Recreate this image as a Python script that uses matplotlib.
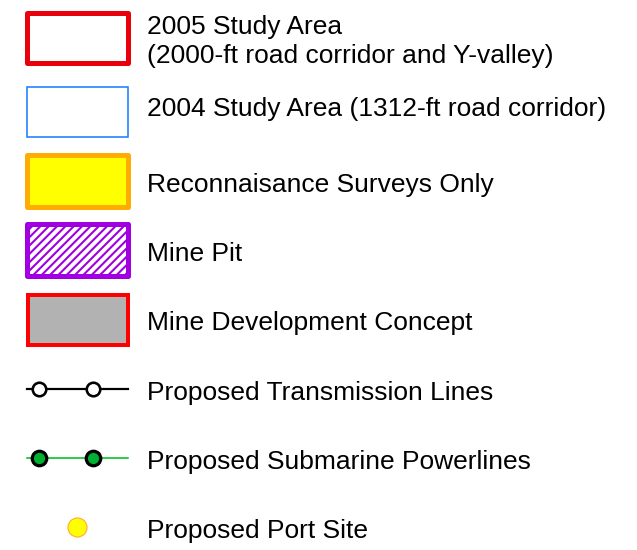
import matplotlib.pyplot as plt
from matplotlib.patches import Rectangle

plt.rcParams['font.family'] = ['Liberation Sans', 'DejaVu Sans']

# legend entries (top to bottom)
labels = [
    "2005 Study Area\n(2000-ft road corridor and Y-valley)",
    "2004 Study Area (1312-ft road corridor)",
    "Reconnaisance Surveys Only",
    "Mine Pit",
    "Mine Development Concept",
    "Proposed Transmission Lines",
    "Proposed Submarine Powerlines",
    "Proposed Port Site",
]
baselines = [34, 116, 192, 261, 330, 400, 469, 538]

W, H = 637, 550
fig = plt.figure(figsize=(W / 100, H / 100), dpi=100)
ax = fig.add_axes([0, 0, 1, 1])
ax.set_xlim(0, W)
ax.set_ylim(H, 0)
ax.axis('off')

px = 72 / 100  # pixels -> points

# area swatches
ax.add_patch(Rectangle((27, 13), 101, 50, facecolor='white', edgecolor='#e8000b',
                       lw=5 * px, joinstyle='round'))
ax.add_patch(Rectangle((26.5, 86.5), 101.5, 50.5, facecolor='white', edgecolor='#1e7fff',
                       lw=1.6 * px))
ax.add_patch(Rectangle((27, 155), 101, 52, facecolor='#ffff00', edgecolor='#ffab00',
                       lw=5 * px, joinstyle='round'))
plt.rcParams['hatch.linewidth'] = 1.5
plt.rcParams['hatch.color'] = '#a000e0'
ax.add_patch(Rectangle((27, 224), 101, 52, facecolor='white', edgecolor='#a000e0',
                       hatch='////', lw=5 * px, joinstyle='round'))
ax.add_patch(Rectangle((27.5, 294.5), 100, 50, facecolor='#b2b2b2', edgecolor='#ff0000',
                       lw=4 * px))

# line symbols
ax.plot([27, 128], [389, 389], color='black', lw=2.2 * px, zorder=2)
ax.plot([39, 93], [389, 389], 'o', ms=13.5 * px, mfc='white', mec='black', mew=2.6 * px, zorder=3)
ax.plot([27, 128], [458, 458], color='#00c020', lw=1.6 * px, zorder=2)
ax.plot([39, 93], [458, 458], 'o', ms=14.5 * px, mfc='#00b030', mec='black', mew=3.2 * px, zorder=3)
ax.plot([77], [527], 'o', ms=19 * px, mfc='#ffff00', mec='#ffb030', mew=1.2 * px)

for lab, yb in zip(labels, baselines):
    ax.text(147, yb, lab.split('\n')[0], fontsize=19, va='baseline', ha='left')
    if '\n' in lab:
        ax.text(147, yb + 29, lab.split('\n')[1], fontsize=19, va='baseline', ha='left')

fig.savefig('out.png', dpi=100)
